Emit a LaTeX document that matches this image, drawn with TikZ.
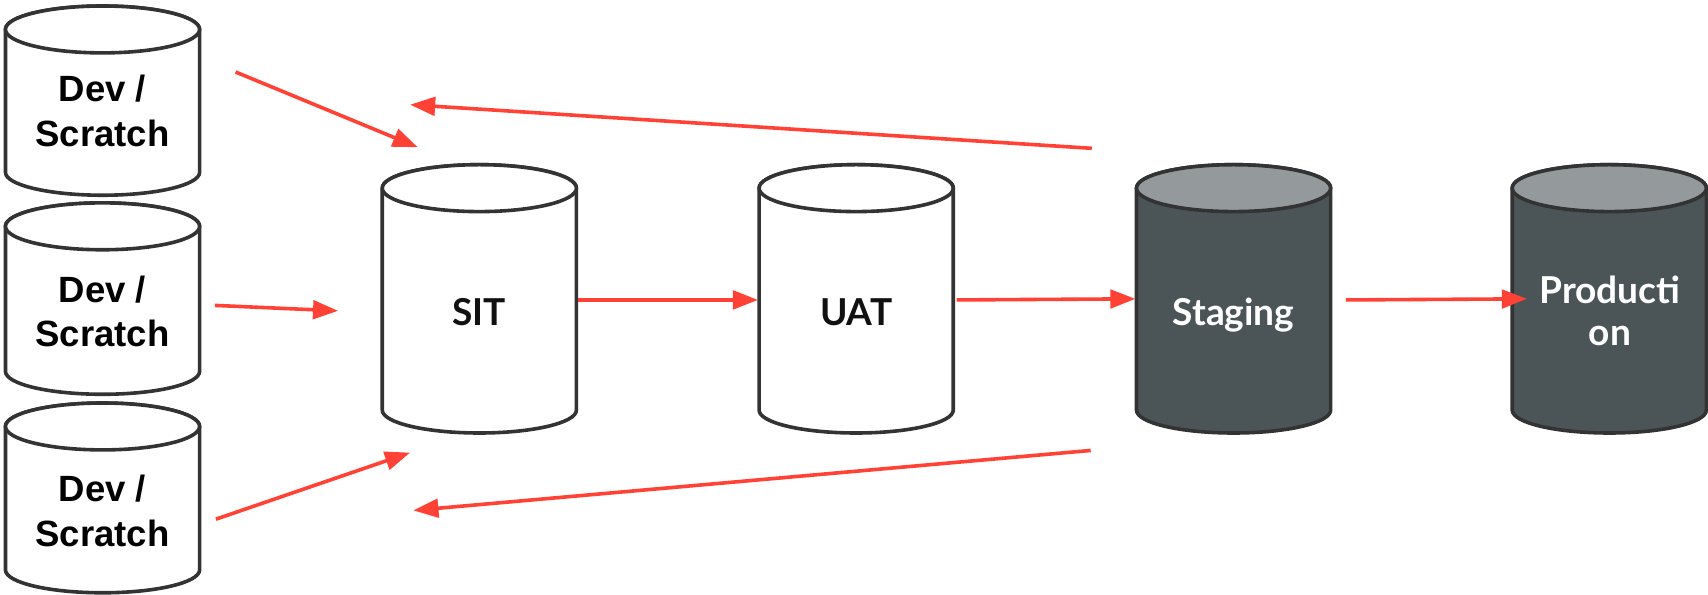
\documentclass[tikz,border=0pt]{standalone}
\usepackage{fontspec}
\usetikzlibrary{arrows.meta}
\newfontfamily\arialfont{Liberation Sans}
\newfontfamily\geofont{Lato}
\definecolor{edgegray}{HTML}{333333}
\definecolor{arrowred}{HTML}{FF4136}
\definecolor{darkbody}{HTML}{4B5557}
\definecolor{darktop}{HTML}{949A9C}
\definecolor{inktext}{HTML}{111111}
% cylinder: center x, top y, bottom y, body fill, top fill
\newcommand\dbcylinder[5]{%
  \path[cylline, fill=#4] ({#1-89},{#2+21.5}) -- ({#1-89},{#3-21})
    arc[start angle=180, end angle=0, x radius=89, y radius=21]
    -- ({#1+89},{#2+21.5})
    arc[start angle=0, end angle=-180, x radius=89, y radius=21.5] -- cycle;
  \path[cylline, fill=#5] (#1,{#2+21.5}) ellipse[x radius=89, y radius=21.5];
}
\tikzset{
  cylline/.style={draw=edgegray, line width=3.3pt, line join=round},
  flow/.style={draw=arrowred, line width=3.3pt, -{Triangle[length=23pt, width=17pt]}},
  devlabel/.style={font=\arialfont\bfseries\fontsize{33.5}{41}\selectfont, text=black, align=center, anchor=base, inner sep=0pt},
  envlabel/.style={font=\geofont\bfseries\fontsize{34}{39}\selectfont, text=inktext, align=center, anchor=base, inner sep=0pt},
  darklabel/.style={envlabel, text=white},
}
\begin{document}
\begin{tikzpicture}[x=1pt, y=1pt, yscale=-1]
\useasboundingbox (0,0) rectangle (1566,545.5);
% cylinders
\dbcylinder{94}{5.5}{179}{white}{white}
\dbcylinder{94}{186}{361.5}{white}{white}
\dbcylinder{94}{369.5}{543.5}{white}{white}
\dbcylinder{439.5}{151}{397}{white}{white}
\dbcylinder{785}{151}{397}{white}{white}
\dbcylinder{1131}{151}{397}{darkbody}{darktop}
\dbcylinder{1475.5}{151}{397}{darkbody}{darktop}
% labels (anchor = baseline of the last line)
\node[devlabel] (dev1) at (94,134.5) {Dev /\\Scratch};
\node[devlabel] (dev2) at (94,318) {Dev /\\Scratch};
\node[devlabel] (dev3) at (94,501) {Dev /\\Scratch};
\node[envlabel] (sit) at (439.5,298) {SIT};
\node[envlabel] (uat) at (785,298) {UAT};
\node[darklabel] (stg) at (1131,298) {Staging};
\node[darklabel] (prod) at (1476,317) {Producti\\on};
% connector end points
\coordinate (d1s) at (216,66);
\coordinate (d1e) at (383,135);
\coordinate (d2s) at (197,280);
\coordinate (d2e) at (310,285);
\coordinate (d3s) at (198,476);
\coordinate (d3e) at (376,415);
\coordinate (sitR) at (530,275);
\coordinate (uatL) at (695,275);
\coordinate (uatR) at (877,275);
\coordinate (stgL) at (1041,274);
\coordinate (stgR) at (1234,275);
\coordinate (prodL) at (1400,274);
\coordinate (backTs) at (1001,136);
\coordinate (backTe) at (376,96);
\coordinate (backBs) at (1000,413);
\coordinate (backBe) at (379,468);
% connectors
\draw[flow] (d1s) -- (d1e);
\draw[flow] (d2s) -- (d2e);
\draw[flow] (d3s) -- (d3e);
\draw[flow] (sitR) -- (uatL);
\draw[flow] (uatR) -- (stgL);
\draw[flow] (stgR) -- (prodL);
\draw[flow] (backTs) -- (backTe);
\draw[flow] (backBs) -- (backBe);
\end{tikzpicture}
\end{document}
